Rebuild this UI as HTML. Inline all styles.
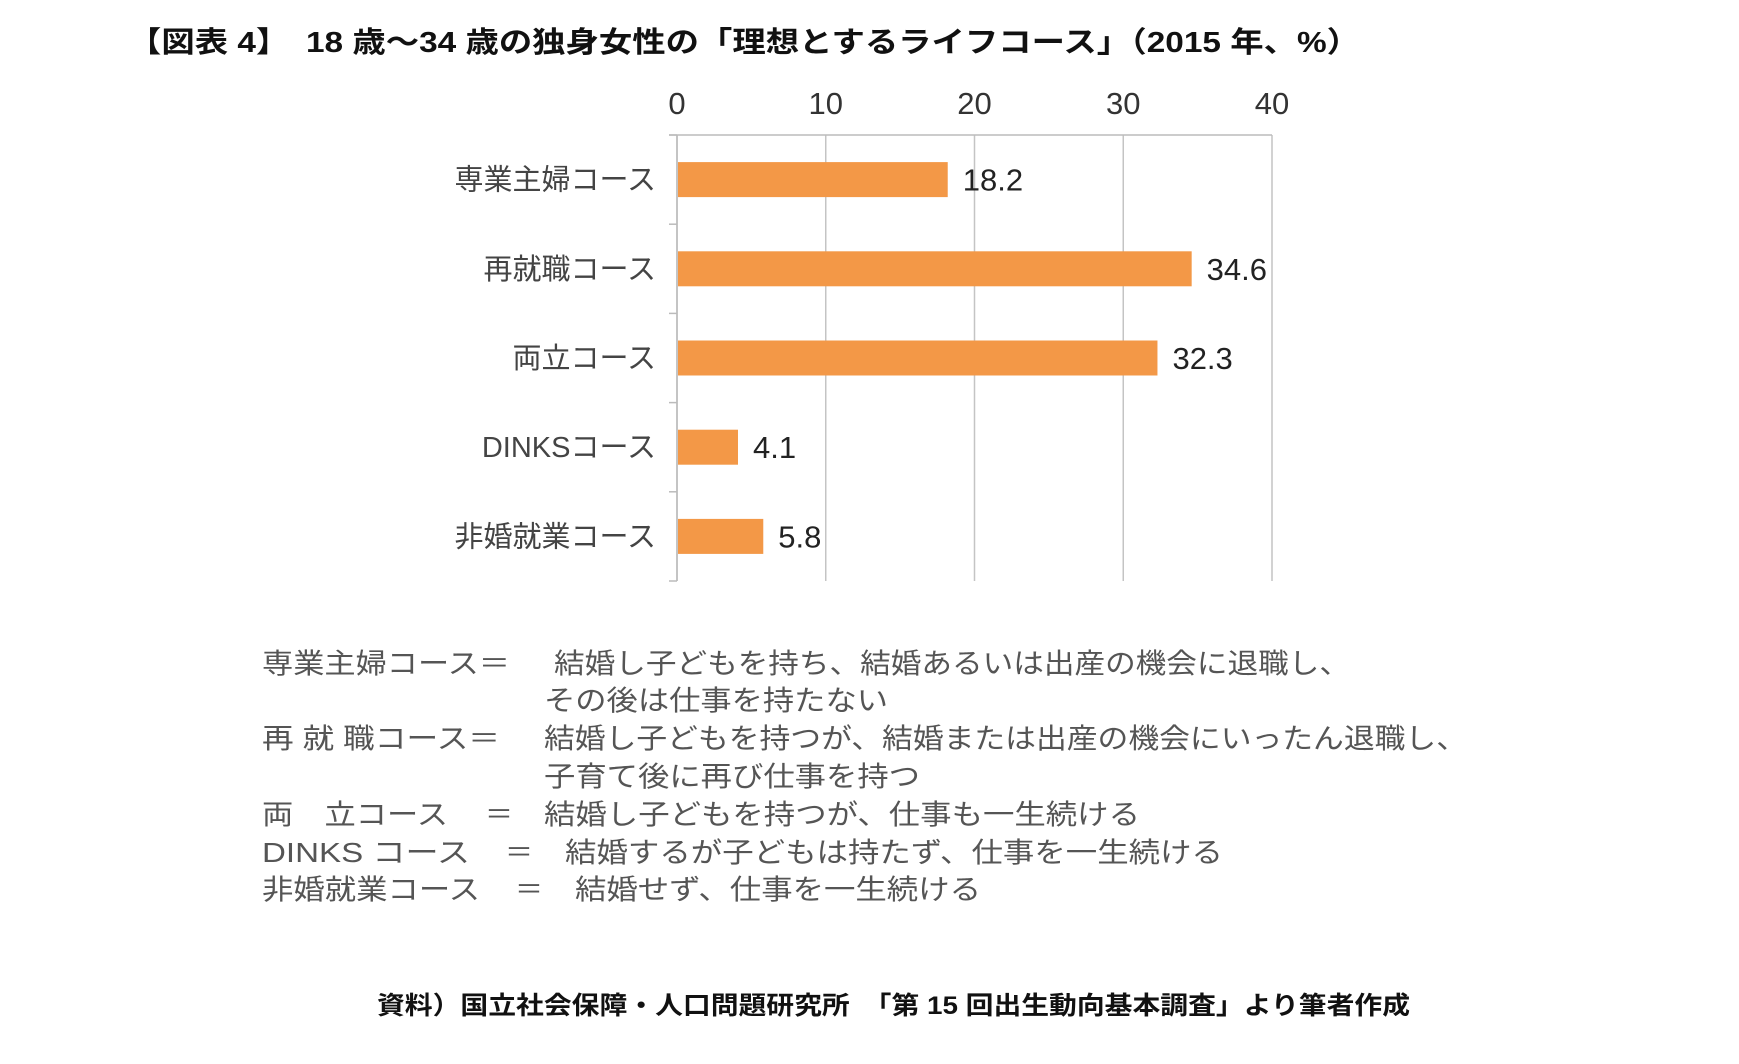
<!DOCTYPE html>
<html><head><meta charset="utf-8"><style>
html,body{margin:0;padding:0;background:#fff;}
svg{display:block;}
text{font-family:"Liberation Sans","Noto Sans CJK JP",sans-serif;}
.t{font-weight:bold;fill:#111;}
.d{fill:#555;font-size:28px;}
</style></head><body>
<svg id="pg" width="1739" height="1064" viewBox="0 0 1739 1064">
<text class="t" x="128" y="52" font-size="29" textLength="1232" lengthAdjust="spacingAndGlyphs">【図表 4】　18 歳～34 歳の独身女性の「理想とするライフコース」（2015 年、%）</text>
<g id="chart"></g>
<g>
<text class="d" x="262" y="673" textLength="248" lengthAdjust="spacingAndGlyphs">専業主婦コース＝</text>
<text class="d" x="554" y="673" textLength="796" lengthAdjust="spacingAndGlyphs">結婚し子どもを持ち、結婚あるいは出産の機会に退職し、</text>
<text class="d" x="544" y="710" textLength="344" lengthAdjust="spacingAndGlyphs">その後は仕事を持たない</text>
<text class="d" x="262" y="748" textLength="238" lengthAdjust="spacingAndGlyphs">再 就 職コース＝</text>
<text class="d" x="544" y="748" textLength="923" lengthAdjust="spacingAndGlyphs">結婚し子どもを持つが、結婚または出産の機会にいったん退職し、</text>
<text class="d" x="544" y="786" textLength="376" lengthAdjust="spacingAndGlyphs">子育て後に再び仕事を持つ</text>
<text class="d" x="262" y="824" textLength="186" lengthAdjust="spacingAndGlyphs">両　立コース</text>
<text class="d" x="485" y="824">＝</text>
<text class="d" x="544" y="824" textLength="596" lengthAdjust="spacingAndGlyphs">結婚し子どもを持つが、仕事も一生続ける</text>
<text class="d" x="262" y="862" textLength="208" lengthAdjust="spacingAndGlyphs">DINKS コース</text>
<text class="d" x="505" y="862">＝</text>
<text class="d" x="565" y="862" textLength="658" lengthAdjust="spacingAndGlyphs">結婚するが子どもは持たず、仕事を一生続ける</text>
<text class="d" x="262" y="899" textLength="218" lengthAdjust="spacingAndGlyphs">非婚就業コース</text>
<text class="d" x="515" y="899">＝</text>
<text class="d" x="575" y="899" textLength="406" lengthAdjust="spacingAndGlyphs">結婚せず、仕事を一生続ける</text>
</g>
<text class="t" x="377" y="1014" font-size="25" textLength="1033" lengthAdjust="spacingAndGlyphs">資料）国立社会保障・人口問題研究所　「第 15 回出生動向基本調査」より筆者作成</text>
</svg>
<script>
const categories = ["専業主婦コース","再就職コース","両立コース","DINKSコース","非婚就業コース"];
const values = [18.2, 34.6, 32.3, 4.1, 5.8];
const valueLabels = ["18.2","34.6","32.3","4.1","5.8"];
const ticks = [0, 10, 20, 30, 40];
const tickLabels = ["0","10","20","30","40"];

const NS = "http://www.w3.org/2000/svg";
const g = document.getElementById('chart');
const X0 = 677, X1 = 1272, MAX = 40, YT = 135, YB = 581;
const band = (YB - YT) / categories.length;
const barH = 35;
const xs = v => X0 + (X1 - X0) * v / MAX;
const yc = i => YT + band * (i + 0.5);
function mk(tag, attrs) { const e = document.createElementNS(NS, tag); for (const k in attrs) e.setAttribute(k, attrs[k]); g.appendChild(e); return e; }

ticks.forEach((t, i) => {
  const gl = mk('line', {x1: xs(t), x2: xs(t), y1: YT, y2: YB, stroke: '#c4c4c4', 'stroke-width': 1.5});
  
  
  const tl = mk('text', {x: xs(t), y: 114, 'text-anchor': 'middle', 'font-size': 31, fill: '#333'});
  tl.textContent = tickLabels[i];
  
  
});
const ax = mk('line', {x1: 669, x2: X1, y1: YT, y2: YT, stroke: '#bbb', 'stroke-width': 1.5});


const ay = mk('line', {x1: X0, x2: X0, y1: YT, y2: YB, stroke: '#bbb', 'stroke-width': 1.5});


for (let i = 0; i <= categories.length; i++) {
  const tk = mk('line', {x1: 669, x2: X0, y1: YT + band * i, y2: YT + band * i, stroke: '#bbb', 'stroke-width': 1.5});
  
  
}
categories.forEach((c, i) => {
  const r = mk('rect', {x: X0 + 1, y: yc(i) - barH / 2, width: xs(values[i]) - X0 - 1, height: barH, fill: '#f39847'});
  
  
  const cl = mk('text', {x: 656, y: yc(i) + 10, 'text-anchor': 'end', 'font-size': 29, fill: '#444'});
  cl.textContent = c;
  
  
  const vl = mk('text', {x: xs(values[i]) + 15, y: yc(i) + 11, 'font-size': 31, fill: '#222'});
  vl.textContent = valueLabels[i];
  
  
});
</script>
</body></html>
